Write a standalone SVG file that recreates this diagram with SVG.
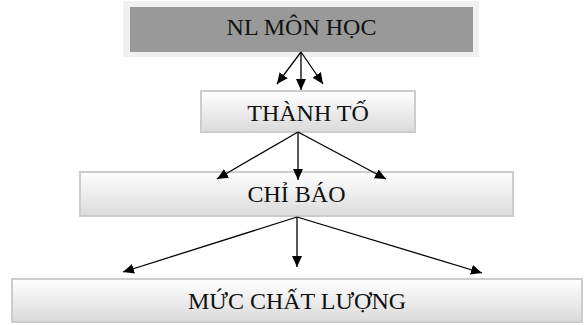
<svg xmlns="http://www.w3.org/2000/svg" width="585" height="325" viewBox="0 0 585 325">
  <defs>
    <linearGradient id="g" x1="0" y1="0" x2="0" y2="1">
      <stop offset="0" stop-color="#ffffff"/>
      <stop offset="1" stop-color="#dadada"/>
    </linearGradient>
    <marker id="ah" markerWidth="12" markerHeight="12" refX="11" refY="6" orient="auto" markerUnits="userSpaceOnUse">
      <path d="M0,1 L11,6 L0,11 Z" fill="#000"/>
    </marker>
  </defs>
  <style>
    .box { fill: url(#g); stroke: #cccccc; stroke-width: 2; }
    .lbl { font-family: "Liberation Serif", "Times New Roman", serif; font-size: 24px; fill: #111; text-anchor: middle; }
    .con line { stroke: #000; stroke-width: 1.3; marker-end: url(#ah); }
  </style>
  <rect width="585" height="325" fill="#fff"/>
  <g id="nl-mon-hoc">
    <rect x="123" y="1" width="356" height="56" fill="#f0f0f0"/>
    <rect x="130" y="7" width="343" height="45" fill="#999999"/>
    <text class="lbl" x="301.5" y="35">NL MÔN HỌC</text>
  </g>
  <g id="thanh-to">
    <rect class="box" x="201" y="91" width="214" height="41"/>
    <text class="lbl" x="308" y="121">THÀNH TỐ</text>
  </g>
  <g id="chi-bao">
    <rect class="box" x="80" y="172" width="433" height="44"/>
    <text class="lbl" x="296.5" y="202">CHỈ BÁO</text>
  </g>
  <g id="muc-chat-luong">
    <rect class="box" x="12" y="279" width="570" height="43"/>
    <text class="lbl" x="297" y="309">MỨC CHẤT LƯỢNG</text>
  </g>
  <g id="connectors" class="con">
    <line x1="301" y1="52" x2="277" y2="84"/>
    <line x1="301" y1="52" x2="301" y2="90"/>
    <line x1="301" y1="52" x2="323" y2="84"/>
    <line x1="298" y1="132" x2="217" y2="179"/>
    <line x1="298" y1="132" x2="298" y2="180"/>
    <line x1="298" y1="132" x2="386" y2="179"/>
    <line x1="297" y1="217" x2="123" y2="272"/>
    <line x1="297" y1="217" x2="297" y2="267"/>
    <line x1="297" y1="217" x2="482" y2="273"/>
  </g>
</svg>
